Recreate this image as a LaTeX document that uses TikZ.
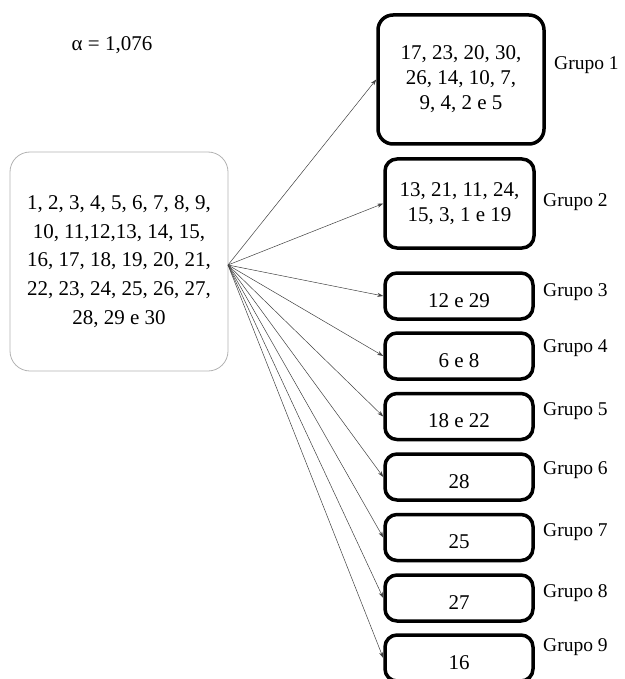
\documentclass[tikz,border=0pt]{standalone}
\usepackage{fontspec}
\setmainfont{Liberation Serif}
\usetikzlibrary{arrows.meta}
\begin{document}
\begin{tikzpicture}[x=1pt,y=-1pt,
  srcbox/.style={draw=black!30, line width=0.8pt, rounded corners=20pt, minimum width=218pt, minimum height=219pt, align=center, inner sep=0pt, font=\fontsize{21}{28.7}\selectfont},
  grpbox/.style={draw=black, line width=3.5pt, rounded corners=12pt, align=center, inner sep=0pt, font=\fontsize{21}{25}\selectfont},
  smallbox/.style={grpbox, minimum width=148pt, minimum height=46pt, text height=22pt, text depth=0pt},
  grplabel/.style={anchor=west, inner sep=0pt, font=\fontsize{19.5}{22}\selectfont},
  link/.style={draw=black!75, line width=0.5pt, -{Stealth[length=6pt,width=4pt]}}
]
\useasboundingbox (0,0) rectangle (624,679);
\node[inner sep=0pt, font=\fontsize{21}{25}\selectfont] (alpha) at (112,45) {α = 1,076};
\node[srcbox] (src) at (119,261.5) {1, 2, 3, 4, 5, 6, 7, 8, 9,\\10, 11,12,13, 14, 15,\\16, 17, 18, 19, 20, 21,\\22, 23, 24, 25, 26, 27,\\28, 29 e 30};
\coordinate (o) at (228,265);

\node[grpbox, rounded corners=15pt, minimum width=166pt, minimum height=129pt] (g1) at (461,79.5) {17, 23, 20, 30,\\26, 14, 10, 7,\\9, 4, 2 e 5};
\node[grpbox, minimum width=149pt, minimum height=89pt] (g2) at (459.5,203.5) {13, 21, 11, 24,\\15, 3, 1 e 19};
\node[smallbox] (g3) at (459,296) {12 e 29};
\node[smallbox] (g4) at (459,356) {6 e 8};
\node[smallbox] (g5) at (459,416.5) {18 e 22};
\node[smallbox] (g6) at (459,477) {28};
\node[smallbox] (g7) at (459,537.5) {25};
\node[smallbox] (g8) at (459,598) {27};
\node[smallbox] (g9) at (459,658) {16};

\node[grplabel] (l1) at (554,65) {Grupo 1};
\node[grplabel] (l2) at (543,202) {Grupo 2};
\node[grplabel] (l3) at (543,292) {Grupo 3};
\node[grplabel] (l4) at (543,348) {Grupo 4};
\node[grplabel] (l5) at (543,411) {Grupo 5};
\node[grplabel] (l6) at (543,470) {Grupo 6};
\node[grplabel] (l7) at (543,532) {Grupo 7};
\node[grplabel] (l8) at (543,593) {Grupo 8};
\node[grplabel] (l9) at (543,647) {Grupo 9};

\foreach \g in {g1,g2,g3,g4,g5,g6,g7,g8,g9}
  \draw[link] (o) -- (\g.west);
\end{tikzpicture}
\end{document}
